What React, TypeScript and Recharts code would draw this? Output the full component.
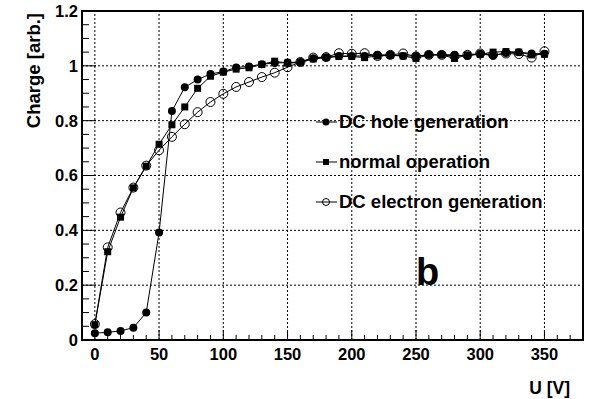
import { LineChart, Line, XAxis, YAxis, ReferenceLine, ReferenceArea } from "recharts";

const voltage = [0, 10, 20, 30, 40, 50, 60, 70, 80, 90, 100, 110, 120, 130, 140, 150, 160, 170, 180, 190, 200, 210, 220, 230, 240, 250, 260, 270, 280, 290, 300, 310, 320, 330, 340, 350];

const holeGen = [0.025, 0.028, 0.033, 0.045, 0.1, 0.392, 0.835, 0.922, 0.95, 0.97, 0.979, 0.994, 0.998, 1.006, 1.01, 1.012, 1.014, 1.028, 1.031, 1.036, 1.036, 1.036, 1.04, 1.04, 1.036, 1.036, 1.04, 1.041, 1.04, 1.036, 1.044, 1.037, 1.047, 1.05, 1.045, 1.044];

const normalOp = [0.056, 0.322, 0.448, 0.555, 0.634, 0.714, 0.785, 0.85, 0.918, 0.962, 0.977, 0.988, 0.993, 1.005, 1.017, 1.01, 1.012, 1.025, 1.03, 1.034, 1.034, 1.03, 1.036, 1.038, 1.036, 1.027, 1.04, 1.04, 1.027, 1.04, 1.042, 1.05, 1.052, 1.05, 1.04, 1.042];

const electronGen = [0.058, 0.338, 0.465, 0.556, 0.636, 0.692, 0.741, 0.787, 0.831, 0.868, 0.898, 0.923, 0.941, 0.959, 0.975, 0.995, 1.014, 1.03, 1.032, 1.046, 1.044, 1.046, 1.036, 1.04, 1.045, 1.034, 1.04, 1.04, 1.035, 1.04, 1.045, 1.04, 1.045, 1.043, 1.03, 1.053];

const xTicks = [0, 10, 20, 30, 40, 50, 60, 70, 80, 90, 100, 110, 120, 130, 140, 150, 160, 170, 180, 190, 200, 210, 220, 230, 240, 250, 260, 270, 280, 290, 300, 310, 320, 330, 340, 350, 360, 370];
const xMajor = [0, 50, 100, 150, 200, 250, 300, 350];
const yTicks = [0, 0.05, 0.1, 0.15, 0.2, 0.25, 0.3, 0.35, 0.4, 0.45, 0.5, 0.55, 0.6, 0.65, 0.7, 0.75, 0.8, 0.85, 0.9, 0.95, 1, 1.05, 1.1, 1.15, 1.2];
const yMajor = [0, 0.2, 0.4, 0.6, 0.8, 1, 1.2];
const yGrid = [0.2, 0.4, 0.6, 0.8, 1];

const data = voltage.map((u, i) => ({
  u,
  hole: holeGen[i],
  normal: normalOp[i],
  electron: electronGen[i],
}));

const FONT = "'Liberation Sans', Arial, Helvetica, sans-serif";

const XTick = (props: any) => {
  const { x, y, payload } = props;
  const major = xMajor.includes(payload.value);
  return (
    <g>
      <line x1={x} x2={x} y1={y} y2={y - (major ? 10 : 5)} stroke="#000" strokeWidth={1} />
      {major && (
        <text x={x} y={y + 20} textAnchor="middle" fontFamily={FONT} fontWeight="bold" fontSize={16.5} fill="#000">
          {payload.value}
        </text>
      )}
    </g>
  );
};

const YTick = (props: any) => {
  const { x, y, payload } = props;
  const v = Number(payload.value.toFixed(2));
  const major = yMajor.includes(v);
  return (
    <g>
      <line x1={x} x2={x + (major ? 14 : 7)} y1={y} y2={y} stroke="#000" strokeWidth={1} />
      {major && (
        <text x={x - 4} y={y} dy="0.36em" textAnchor="end" fontFamily={FONT} fontWeight="bold" fontSize={16.5} fill="#000">
          {String(v)}
        </text>
      )}
    </g>
  );
};

const FilledCircle = (props: any) => (
  <circle key={props.index} cx={props.cx} cy={props.cy} r={4} fill="#000" />
);
const Square = (props: any) => (
  <rect key={props.index} x={props.cx - 3.5} y={props.cy - 3.5} width={7} height={7} fill="#000" />
);
const OpenCircle = (props: any) => (
  <circle key={props.index} cx={props.cx} cy={props.cy} r={4.5} fill="none" stroke="#000" strokeWidth={1} />
);

export default function App() {
  return (
    <div style={{ position: "absolute", left: 0, top: 0, background: "#fff" }}>
      <LineChart width={594} height={399} data={data} margin={{ top: 11, right: 11, bottom: 0, left: 0 }}>
        <XAxis
          dataKey="u"
          type="number"
          domain={[-10, 380]}
          ticks={xTicks}
          interval={0}
          tick={XTick}
          tickLine={false}
          tickSize={0}
          tickMargin={0}
          height={59}
          axisLine={{ stroke: "#000", strokeWidth: 2 }}
          allowDataOverflow
        />
        <YAxis
          type="number"
          domain={[0, 1.2]}
          ticks={yTicks}
          interval={0}
          tick={YTick}
          tickLine={false}
          tickSize={0}
          tickMargin={0}
          width={82}
          axisLine={{ stroke: "#000", strokeWidth: 2 }}
          allowDataOverflow
        />
        {xMajor.map((v) => (
          <ReferenceLine key={"gx" + v} x={v} stroke="#000" strokeWidth={1} strokeDasharray="2 2" />
        ))}
        {yGrid.map((v) => (
          <ReferenceLine key={"gy" + v} y={v} stroke="#000" strokeWidth={1} strokeDasharray="2 2" />
        ))}
        <ReferenceArea x1={-10} x2={380} y1={0} y2={1.2} fill="none" stroke="#000" strokeWidth={2} />
        <Line dataKey="hole" stroke="#000" strokeWidth={1} dot={FilledCircle} isAnimationActive={false} />
        <Line dataKey="normal" stroke="#000" strokeWidth={1} dot={Square} isAnimationActive={false} />
        <Line dataKey="electron" stroke="#000" strokeWidth={1} dot={OpenCircle} isAnimationActive={false} />

        <g fontFamily={FONT} fontWeight="bold" fill="#000">
          <line x1={316} x2={337} y1={122} y2={122} stroke="#000" />
          <circle cx={326} cy={122} r={3.5} fill="#000" />
          <text x={339} y={128} fontSize={18.5}>DC hole generation</text>
          <line x1={316} x2={337} y1={162} y2={162} stroke="#000" />
          <rect x={323} y={159} width={6} height={6} fill="#000" />
          <text x={339} y={168} fontSize={18.5}>normal operation</text>
          <line x1={316} x2={337} y1={202} y2={202} stroke="#000" />
          <circle cx={326} cy={202} r={3.5} fill="none" stroke="#000" />
          <text x={339} y={208} fontSize={18.5}>DC electron generation</text>
          <text x={416} y={285} fontSize={38}>b</text>
          <text x={570} y={394} fontSize={17.5} textAnchor="end">U [V]</text>
          <text x={40} y={13} fontSize={18.5} textAnchor="end" transform="rotate(-90 40 13)">Charge [arb.]</text>
        </g>
      </LineChart>
    </div>
  );
}
